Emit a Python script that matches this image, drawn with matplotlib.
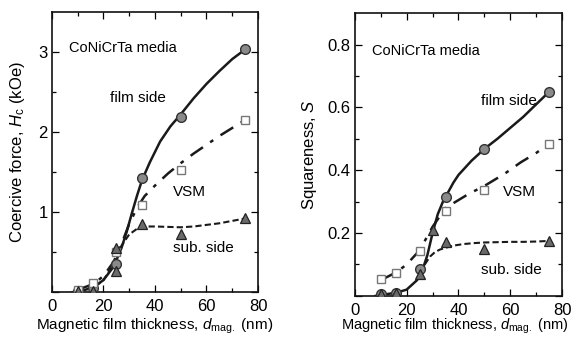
import matplotlib
matplotlib.use("Agg")
import matplotlib.pyplot as plt
from matplotlib.ticker import MultipleLocator, FixedLocator

plt.rcParams['font.family'] = ['Liberation Sans', 'DejaVu Sans']
plt.rcParams['mathtext.fontset'] = 'custom'
plt.rcParams['mathtext.rm'] = 'Liberation Sans'
plt.rcParams['mathtext.it'] = 'Liberation Sans:italic'

# ---------------- data: coercive force Hc (kOe) ----------------
hc_film_x = [10, 16, 25, 35, 50, 75]
hc_film_y = [0.02, 0.05, 0.35, 1.42, 2.19, 3.04]
hc_vsm_x = [10, 16, 25, 35, 50, 75]
hc_vsm_y = [0.03, 0.12, 0.50, 1.09, 1.53, 2.15]
hc_sub_x = [10, 16, 25, 25, 35, 50, 75]
hc_sub_y = [0.02, 0.02, 0.27, 0.55, 0.85, 0.73, 0.92]

# hand-drawn guide curves
hc_film_curve_x = [8, 12, 16, 20, 24, 27, 29, 31, 33, 35, 38, 42, 46, 50, 55, 60, 65, 70, 75]
hc_film_curve_y = [0.0, 0.02, 0.06, 0.15, 0.32, 0.55, 0.75, 0.98, 1.2, 1.4, 1.62, 1.88, 2.07, 2.22, 2.42, 2.6, 2.76, 2.91, 3.03]
hc_vsm_curve_x = [10, 16, 20, 24, 27, 30, 33, 36, 40, 45, 50, 55, 60, 65, 70, 75]
hc_vsm_curve_y = [0.03, 0.1, 0.2, 0.38, 0.6, 0.85, 1.05, 1.2, 1.33, 1.48, 1.61, 1.73, 1.84, 1.95, 2.05, 2.15]
hc_sub_curve_x = [10, 16, 20, 24, 27, 30, 33, 35, 40, 45, 50, 55, 60, 65, 70, 75]
hc_sub_curve_y = [0.02, 0.05, 0.15, 0.35, 0.58, 0.72, 0.79, 0.82, 0.82, 0.815, 0.81, 0.82, 0.84, 0.86, 0.89, 0.92]

# ---------------- data: squareness S ----------------
s_film_x = [10, 16, 25, 35, 50, 75]
s_film_y = [0.005, 0.01, 0.085, 0.315, 0.469, 0.65]
s_vsm_x = [10, 16, 25, 35, 50, 75]
s_vsm_y = [0.053, 0.074, 0.143, 0.27, 0.336, 0.484]
s_sub_x = [10, 16, 25, 30, 35, 50, 75]
s_sub_y = [0.005, 0.01, 0.07, 0.21, 0.17, 0.148, 0.175]

s_film_curve_x = [8, 10, 16, 20, 24, 26, 28, 30, 32, 34, 35, 38, 40, 45, 50, 55, 60, 65, 70, 75]
s_film_curve_y = [0.0, 0.003, 0.01, 0.02, 0.05, 0.08, 0.13, 0.2, 0.26, 0.3, 0.315, 0.36, 0.385, 0.43, 0.468, 0.5, 0.535, 0.57, 0.61, 0.65]
s_vsm_curve_x = [10, 16, 20, 25, 30, 35, 38, 44, 50, 58, 64, 70, 75]
s_vsm_curve_y = [0.05, 0.075, 0.1, 0.145, 0.22, 0.28, 0.295, 0.325, 0.35, 0.39, 0.425, 0.455, 0.485]
s_sub_curve_x = [27, 29, 31, 33, 35, 38, 42, 46, 50, 55, 60, 65, 70, 75]
s_sub_curve_y = [0.1, 0.125, 0.14, 0.148, 0.153, 0.16, 0.165, 0.168, 0.17, 0.171, 0.172, 0.172, 0.173, 0.175]

fig = plt.figure(figsize=(5.76, 3.37), dpi=100)
ax1 = fig.add_axes([0.090, 0.133, 0.358, 0.832])
ax2 = fig.add_axes([0.616, 0.122, 0.360, 0.839])

lc = '#1a1a1a'
circle_kw = dict(marker='o', ms=7, mfc='#8a8a8a', mec='#333333', mew=1.0, ls='none', zorder=5)
square_kw = dict(marker='s', ms=6.2, mfc='white', mec='#777777', mew=1.0, ls='none', zorder=5)
tri_kw = dict(marker='^', ms=7, mfc='#6a6a6a', mec='#222222', mew=0.9, ls='none', zorder=5)

dashdot = (0, (6, 3.5, 1.5, 3.5))
dashed = (0, (3, 1.5))

def style(ax, ylim, ymaj, ymin, ylabels):
    ax.set_xlim(0, 80)
    ax.set_ylim(*ylim)
    ax.xaxis.set_major_locator(MultipleLocator(20))
    ax.xaxis.set_minor_locator(MultipleLocator(10))
    ax.yaxis.set_major_locator(FixedLocator(ymaj))
    ax.yaxis.set_minor_locator(FixedLocator(ymin))
    ax.set_yticklabels(ylabels)
    ax.tick_params(which='both', direction='in', top=True, right=True, labelsize=12, width=0.9)
    ax.tick_params(which='major', length=5, pad=3)
    ax.tick_params(axis='x', which='major', pad=5)
    ax.tick_params(which='minor', length=3)
    for s in ax.spines.values():
        s.set_linewidth(1.2)
        s.set_color('#111111')

# ---- left panel
ax1.plot(hc_film_curve_x, hc_film_curve_y, color=lc, lw=1.8, zorder=3)
ax1.plot(hc_vsm_curve_x, hc_vsm_curve_y, color=lc, lw=1.8, ls=dashdot, zorder=3)
ax1.plot(hc_sub_curve_x, hc_sub_curve_y, color=lc, lw=1.5, ls=dashed, zorder=3)
ax1.plot(hc_film_x, hc_film_y, **circle_kw)
ax1.plot(hc_vsm_x, hc_vsm_y, **square_kw)
ax1.plot(hc_sub_x, hc_sub_y, **tri_kw)
style(ax1, (0, 3.5), [0, 1, 2, 3], [0.5, 1.5, 2.5],
      ['', '1', '2', '3'])
ax1.set_ylabel('Coercive force, $H_{\\mathrm{c}}$ (kOe)', fontsize=12, labelpad=8)
ax1.set_xlabel('Magnetic film thickness, $d_{\\mathrm{mag.}}$ (nm)', fontsize=11, labelpad=2)
ax1.text(6.5, 3.05, 'CoNiCrTa media', fontsize=10.5, va='center', ha='left')
ax1.text(22.5, 2.42, 'film side', fontsize=11, va='center', ha='left')
ax1.text(47, 1.25, 'VSM', fontsize=11, va='center', ha='left')
ax1.text(47, 0.55, 'sub. side', fontsize=11, va='center', ha='left')

# ---- right panel
ax2.plot(s_film_curve_x, s_film_curve_y, color=lc, lw=1.8, zorder=3)
ax2.plot(s_vsm_curve_x, s_vsm_curve_y, color=lc, lw=1.8, ls=dashdot, zorder=3)
ax2.plot(s_sub_curve_x, s_sub_curve_y, color=lc, lw=1.5, ls=dashed, zorder=3)
ax2.plot(s_film_x, s_film_y, **circle_kw)
ax2.plot(s_vsm_x, s_vsm_y, **square_kw)
ax2.plot(s_sub_x, s_sub_y, **tri_kw)
style(ax2, (0, 0.9), [0, 0.2, 0.4, 0.6, 0.8], [0.1, 0.3, 0.5, 0.7],
      ['', '0.2', '0.4', '0.6', '0.8'])
ax2.set_ylabel('Squareness, $S$', fontsize=12, labelpad=6)
ax2.set_xlabel('Magnetic film thickness, $d_{\\mathrm{mag.}}$ (nm)', fontsize=10.5, labelpad=1)
ax2.xaxis.set_label_coords(0.48, -0.075)
ax2.text(6.8, 0.78, 'CoNiCrTa media', fontsize=10.5, va='center', ha='left')
ax2.text(48.5, 0.62, 'film side', fontsize=11, va='center', ha='left')
ax2.text(57, 0.33, 'VSM', fontsize=11, va='center', ha='left')
ax2.text(48.5, 0.083, 'sub. side', fontsize=11, va='center', ha='left')

fig.savefig('out.png', dpi=100, facecolor='white')
